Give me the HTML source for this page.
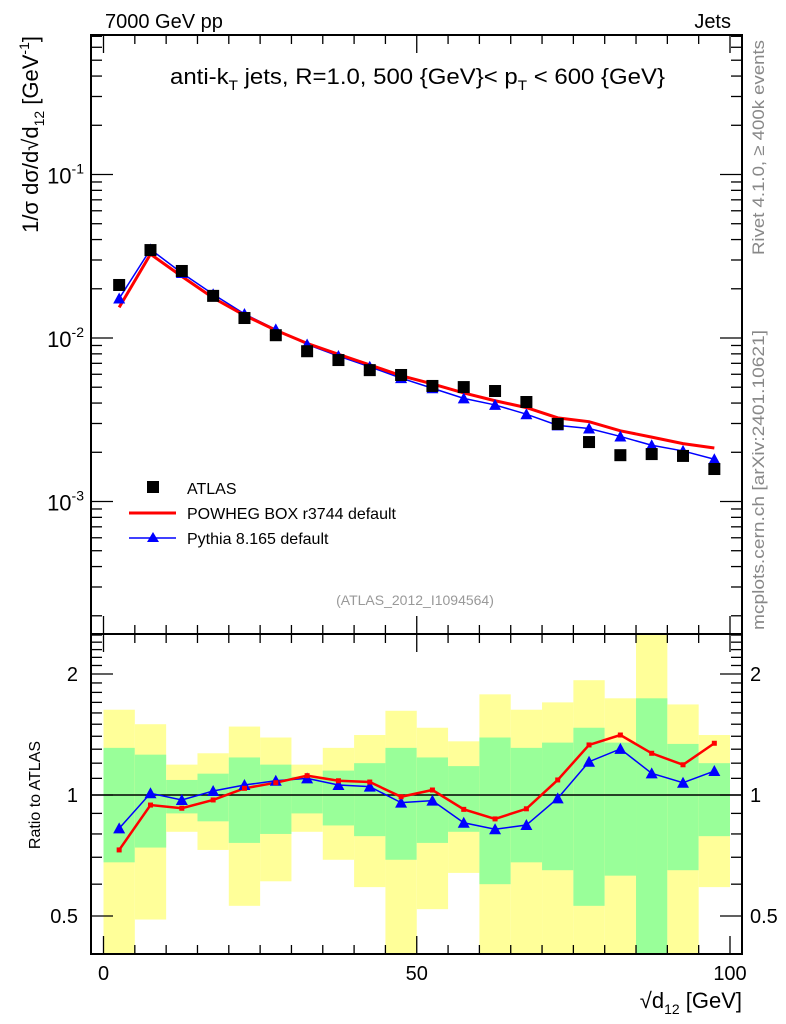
<!DOCTYPE html>
<html><head><meta charset="utf-8"><style>
body{margin:0;background:#fff;}
svg{display:block;font-family:"Liberation Sans",sans-serif;}
</style></head><body>
<svg id="chart" width="786" height="1024" viewBox="0 0 786 1024">
<g id="bands"></g>
<g id="grid"></g>
<g id="series"></g>
<text x="105" y="28" font-size="20">7000 GeV pp</text>
<text x="731" y="28" font-size="20" text-anchor="end">Jets</text>
<text x="170" y="84" font-size="22" textLength="495" lengthAdjust="spacingAndGlyphs">anti-k<tspan font-size="14" dy="6">T</tspan><tspan dy="-6"> jets, R=1.0, 500 {GeV}&lt; p</tspan><tspan font-size="14" dy="6">T</tspan><tspan dy="-6"> &lt; 600 {GeV}</tspan></text>
<text transform="translate(38,36) rotate(-90)" font-size="22" text-anchor="end">1/σ dσ/d√d<tspan font-size="14" dy="6">12</tspan><tspan dy="-6"> [GeV</tspan><tspan font-size="14" dy="-9">-1</tspan><tspan dy="9">]</tspan></text>
<text transform="translate(40,795) rotate(-90)" font-size="16" text-anchor="middle">Ratio to ATLAS</text>
<text x="742" y="1008" font-size="22" text-anchor="end">√d<tspan font-size="14" dy="6">12</tspan><tspan dy="-6"> [GeV]</tspan></text>
<text transform="translate(764,255) rotate(-90)" font-size="17" fill="#888" textLength="215" lengthAdjust="spacingAndGlyphs">Rivet 4.1.0, ≥ 400k events</text>
<text transform="translate(764,630) rotate(-90)" font-size="17" fill="#888" textLength="300" lengthAdjust="spacingAndGlyphs">mcplots.cern.ch [arXiv:2401.10621]</text>
<text x="415" y="605" font-size="14" fill="#999" text-anchor="middle">(ATLAS_2012_I1094564)</text>
<g>
<rect x="147" y="481" width="12" height="12" fill="#000"/>
<text x="187" y="494" font-size="16">ATLAS</text>
<line x1="129" y1="513" x2="176" y2="513" stroke="#f00" stroke-width="3"/>
<text x="187" y="519" font-size="16">POWHEG BOX r3744 default</text>
<line x1="129" y1="538" x2="176" y2="538" stroke="#00f" stroke-width="1.5"/>
<polygon points="153,532 159,542 147,542" fill="#00f"/>
<text x="187" y="544" font-size="16">Pythia 8.165 default</text>
</g>
</svg>
<script>
const binCenters=[2.5,7.5,12.5,17.5,22.5,27.5,32.5,37.5,42.5,47.5,52.5,57.5,62.5,67.5,72.5,77.5,82.5,87.5,92.5,97.5];
const atlasValues=[0.0211,0.0345,0.0257,0.0181,0.01325,0.0104,0.0083,0.00733,0.00636,0.00594,0.00509,0.00501,0.00474,0.00406,0.00298,0.00231,0.00192,0.00195,0.0019,0.00158];
const powhegRatio=[0.73,0.944,0.927,0.972,1.039,1.073,1.117,1.085,1.077,0.99,1.029,0.921,0.872,0.924,1.09,1.332,1.41,1.27,1.189,1.345];
const pythiaRatio=[0.826,1.01,0.972,1.023,1.059,1.085,1.1,1.059,1.049,0.957,0.968,0.853,0.822,0.842,0.981,1.21,1.302,1.132,1.073,1.147];
const yellowUp=[1.63,1.50,1.19,1.27,1.48,1.39,1.19,1.31,1.41,1.62,1.47,1.36,1.78,1.63,1.70,1.93,1.74,3.0,1.68,1.41];
const greenUp=[1.31,1.26,1.09,1.13,1.24,1.19,1.11,1.15,1.20,1.31,1.24,1.18,1.39,1.31,1.35,1.47,1.35,1.74,1.34,1.20];
const greenDn=[0.68,0.74,0.90,0.86,0.76,0.80,0.90,0.84,0.79,0.69,0.76,0.81,0.60,0.68,0.65,0.53,0.63,0.3,0.65,0.79];
const yellowDn=[0.3,0.49,0.81,0.73,0.53,0.61,0.81,0.69,0.59,0.3,0.52,0.64,0.3,0.3,0.3,0.3,0.3,0.3,0.3,0.59];
const xTicks=[0,50,100];
const mainTicks=[0.1,0.01,0.001];
const mainTickLabels=["-1","-2","-3"];
const ratioTicks=[0.5,1,2];
const ratioTickLabels=["0.5","1","2"];

const L=91,R=742,T=35,MB=634,B=954;
const NS="http://www.w3.org/2000/svg";
const X=v=>103.5+v*6.265;
const YM=v=>174.5-(Math.log10(v)+1)*163.5;
const YR=v=>795-Math.log2(v)*121;
const clampR=y=>Math.max(MB,Math.min(B,y));
function mk(parent,tag,attrs){const e=document.createElementNS(NS,tag);for(const k in attrs)e.setAttribute(k,attrs[k]);parent.appendChild(e);return e;}
const bands=document.getElementById('bands'),grid=document.getElementById('grid'),ser=document.getElementById('series');

binCenters.forEach((c,i)=>{
  const x0=X(c-2.5),w=X(c+2.5)-x0;
  let y1=clampR(YR(yellowUp[i])),y2=clampR(YR(yellowDn[i]));
  let r=mk(bands,'rect',{x:x0,y:y1,width:w,height:y2-y1,fill:'#ffff99'});
  
  
  y1=clampR(YR(greenUp[i]));y2=clampR(YR(greenDn[i]));
  r=mk(bands,'rect',{x:x0,y:y1,width:w,height:y2-y1,fill:'#99ff99'});
  
  
});

let f=mk(grid,'rect',{x:L,y:T,width:R-L,height:MB-T,fill:'none',stroke:'#000','stroke-width':2});

f=mk(grid,'rect',{x:L,y:MB,width:R-L,height:B-MB,fill:'none',stroke:'#000','stroke-width':2});

let ul=mk(grid,'line',{x1:L,x2:R,y1:YR(1),y2:YR(1),stroke:'#000','stroke-width':1.5});


for(let v=0;v<=100;v+=5){
  const x=X(v),len=(v%50===0)?18:9;
  [[T,1],[MB,-1],[MB,1],[B,-1]].forEach(([y,d])=>{const t=mk(grid,'line',{x1:x,x2:x,y1:y,y2:y+d*len,stroke:'#000','stroke-width':1.3});});
}
xTicks.forEach(v=>{const t=mk(grid,'text',{x:X(v),y:980,'font-size':20,'text-anchor':'middle'});t.textContent=v;});

for(let e=-4;e<=-1;e++)for(let m=1;m<=9;m++){
  const v=m*Math.pow(10,e),y=YM(v);if(y<T||y>MB)continue;
  const len=m===1?22:11;
  [[L,1],[R,-1]].forEach(([x,d])=>{const t=mk(grid,'line',{x1:x,x2:x+d*len,y1:y,y2:y,stroke:'#000','stroke-width':1.3});});
}
mainTicks.forEach((v,i)=>{const t=mk(grid,'text',{x:84,y:YM(v)+9,'font-size':22,'text-anchor':'end'});t.innerHTML='10<tspan font-size="14" dy="-10">'+mainTickLabels[i]+'</tspan>';});

for(let k=4;k<=25;k++){
  const v=k/10,y=YR(v);if(y<MB||y>B)continue;
  const len=(k===5||k===10||k===20)?22:11;
  [[L,1],[R,-1]].forEach(([x,d])=>{const t=mk(grid,'line',{x1:x,x2:x+d*len,y1:y,y2:y,stroke:'#000','stroke-width':1.3});});
}
ratioTicks.forEach((v,i)=>{
  let t=mk(grid,'text',{x:78,y:YR(v)+7,'font-size':20,'text-anchor':'end'});t.textContent=ratioTickLabels[i];
  t=mk(grid,'text',{x:750,y:YR(v)+7,'font-size':20});t.textContent=ratioTickLabels[i];
});

const powVals=binCenters.map((c,i)=>atlasValues[i]*powhegRatio[i]);
const pyVals=binCenters.map((c,i)=>atlasValues[i]*pythiaRatio[i]);
function line(vals,yf,color,w,name){const p=mk(ser,'polyline',{points:binCenters.map((c,i)=>X(c)+','+yf(vals[i])).join(' '),fill:'none',stroke:color,'stroke-width':w});}
line(pyVals,YM,'#00f',1.5,'pythia-line');
line(powVals,YM,'#f00',3,'powheg-line');
binCenters.forEach((c,i)=>{
  const x=X(c);
  let y=YM(pyVals[i]);
  let m=mk(ser,'polygon',{points:`${x},${y-6} ${x+6},${y+5} ${x-6},${y+5}`,fill:'#00f'});
  y=YM(atlasValues[i]);
  m=mk(ser,'rect',{x:x-6,y:y-6,width:12,height:12,fill:'#000'});
});
line(pythiaRatio,YR,'#00f',1.5,'pythia-ratio-line');
line(powhegRatio,YR,'#f00',2.5,'powheg-ratio-line');
binCenters.forEach((c,i)=>{
  const x=X(c);
  let y=YR(pythiaRatio[i]);
  let m=mk(ser,'polygon',{points:`${x},${y-6} ${x+6},${y+5} ${x-6},${y+5}`,fill:'#00f'});
  y=YR(powhegRatio[i]);
  m=mk(ser,'rect',{x:x-2.5,y:y-2.5,width:5,height:5,fill:'#f00'});
});
</script>
</body></html>
